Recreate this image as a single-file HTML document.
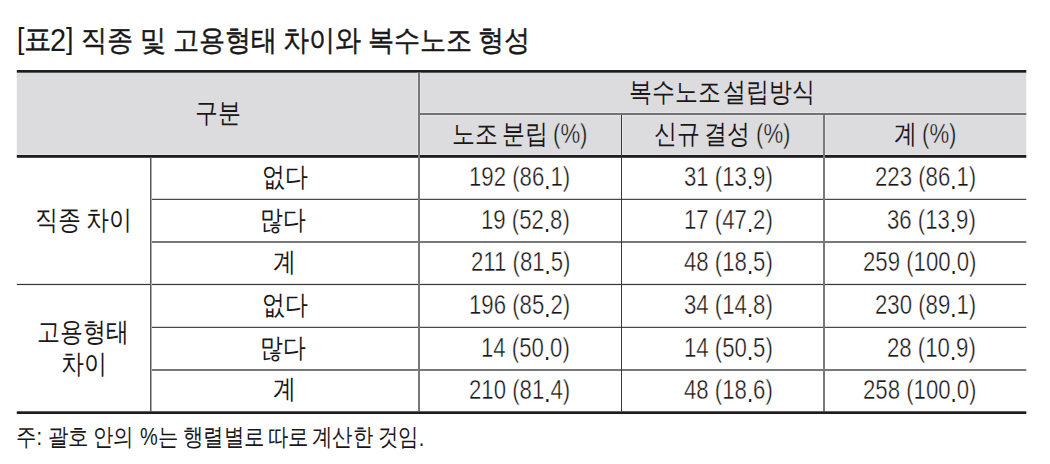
<!DOCTYPE html>
<html lang="ko"><head><meta charset="utf-8"><style>
html,body{margin:0;padding:0;background:#fff;}
body{width:1050px;height:464px;position:relative;overflow:hidden;font-family:"Liberation Sans",sans-serif;color:#1a1718;}
svg{position:absolute;left:0;top:0;}
span{position:absolute;line-height:1;white-space:pre;transform-origin:0 0;}
b{font-weight:normal;position:relative;top:1px;}
i{font-style:normal;position:relative;top:3px;-webkit-text-stroke:0;}
</style></head><body>
<svg width="1050" height="464" viewBox="0 0 1050 464"><rect x="16.8" y="72.5" width="1009.50" height="82.50" fill="#dcdcde"/><rect x="16.8" y="70" width="1009.50" height="2.70" fill="#1e1c1d"/><rect x="420" y="112" width="606.30" height="1.00" fill="#e5e5e7"/><rect x="420" y="115" width="606.30" height="1.00" fill="#e5e5e7"/><rect x="418" y="113" width="608.30" height="2.00" fill="#717172"/><rect x="417" y="72.7" width="1.00" height="81.30" fill="#e5e5e7"/><rect x="420" y="72.7" width="1.00" height="39.30" fill="#e5e5e7"/><rect x="420" y="116" width="1.00" height="38.00" fill="#e5e5e7"/><rect x="622" y="116" width="1.00" height="38.00" fill="#e5e5e7"/><rect x="825" y="116" width="1.00" height="38.00" fill="#e5e5e7"/><rect x="16.8" y="154" width="1009.50" height="1.00" fill="#e5e5e7"/><rect x="16.8" y="155" width="1009.50" height="2.80" fill="#1e1c1d"/><rect x="152" y="198" width="874.30" height="1.00" fill="#d2d2d2"/><rect x="150" y="199" width="876.30" height="1.00" fill="#4a4849"/><rect x="152" y="326" width="874.30" height="1.00" fill="#d2d2d2"/><rect x="150" y="327" width="876.30" height="1.00" fill="#4a4849"/><rect x="150" y="241" width="876.30" height="2.00" fill="#7a7879"/><rect x="150" y="369" width="876.30" height="2.00" fill="#7a7879"/><rect x="16.8" y="283" width="1009.50" height="1.00" fill="#e4e4e4"/><rect x="16.8" y="284" width="1009.50" height="1.00" fill="#3a3638"/><rect x="16.8" y="285" width="1009.50" height="1.00" fill="#eeeeee"/><rect x="150" y="157.8" width="1.00" height="253.50" fill="#5a585a"/><rect x="151" y="157.8" width="1.00" height="253.50" fill="#aaa8aa"/><rect x="418" y="72.7" width="2.00" height="338.60" fill="#787678"/><rect x="621" y="115" width="1.00" height="296.30" fill="#3c3839"/><rect x="823" y="115" width="2.00" height="296.30" fill="#7a7879"/><rect x="16.8" y="411.3" width="1009.50" height="2.70" fill="#1e1c1d"/></svg>
<span style="left:81.35px;top:26.00px;font-size:29.0px;transform:scaleX(0.9);-webkit-text-stroke:0.45px #1a1718;">직종</span>
<span style="left:140.30px;top:26.00px;font-size:29.0px;transform:scaleX(0.9);-webkit-text-stroke:0.45px #1a1718;">및</span>
<span style="left:173.35px;top:26.00px;font-size:29.0px;transform:scaleX(0.9);-webkit-text-stroke:0.45px #1a1718;">고용형태</span>
<span style="left:283.15px;top:26.00px;font-size:29.0px;transform:scaleX(0.9);-webkit-text-stroke:0.45px #1a1718;">차이와</span>
<span style="left:367.60px;top:26.00px;font-size:29.0px;transform:scaleX(0.9);-webkit-text-stroke:0.45px #1a1718;">복수노조</span>
<span style="left:477.50px;top:26.00px;font-size:29.0px;transform:scaleX(0.9);-webkit-text-stroke:0.45px #1a1718;">형성</span>
<span style="left:24.20px;top:25.00px;font-size:29.0px;transform:scaleX(0.95);-webkit-text-stroke:0.45px #1a1718;">표</span>
<span style="left:16.65px;top:24.00px;font-size:29.5px;transform:scaleX(0.9);">[</span>
<span style="left:66.00px;top:24.00px;font-size:29.5px;transform:scaleX(0.9);">]</span>
<span style="left:49.80px;top:25.00px;font-size:30.5px;transform:scaleX(0.95);">2</span>
<span style="left:629.10px;top:79.00px;font-size:26.7px;transform:scaleX(0.85);">복수노조</span>
<span style="left:723.45px;top:79.00px;font-size:26.7px;transform:scaleX(0.85);">설립방식</span>
<span style="left:194.75px;top:100.00px;font-size:26.7px;transform:scaleX(0.85);">구분</span>
<span style="left:451.75px;top:121.00px;font-size:26.7px;transform:scaleX(0.85);">노조</span>
<span style="left:502.45px;top:121.00px;font-size:26.7px;transform:scaleX(0.85);">분립</span>
<span style="left:653.90px;top:121.00px;font-size:26.7px;transform:scaleX(0.85);">신규</span>
<span style="left:703.70px;top:121.00px;font-size:26.7px;transform:scaleX(0.85);">결성</span>
<span style="left:893.70px;top:121.00px;font-size:26.7px;transform:scaleX(0.85);">계</span>
<span style="left:553.35px;top:120.00px;font-size:27.4px;transform:scaleX(0.81);-webkit-text-stroke:0.4px #dcdcde;">(%)</span>
<span style="left:755.80px;top:120.00px;font-size:27.4px;transform:scaleX(0.81);-webkit-text-stroke:0.4px #dcdcde;">(%)</span>
<span style="left:922.35px;top:120.00px;font-size:27.4px;transform:scaleX(0.81);-webkit-text-stroke:0.4px #dcdcde;">(%)</span>
<span style="left:261.50px;top:164.00px;font-size:26.7px;transform:scaleX(0.85);">없다</span>
<span style="left:260.35px;top:207.00px;font-size:26.7px;transform:scaleX(0.85);">많다</span>
<span style="left:273.20px;top:249.00px;font-size:26.7px;transform:scaleX(0.85);">계</span>
<span style="left:261.50px;top:292.00px;font-size:26.7px;transform:scaleX(0.85);">없다</span>
<span style="left:260.35px;top:335.00px;font-size:26.7px;transform:scaleX(0.85);">많다</span>
<span style="left:273.20px;top:376.00px;font-size:26.7px;transform:scaleX(0.85);">계</span>
<span style="left:35.25px;top:207.00px;font-size:26.7px;transform:scaleX(0.85);">직종</span>
<span style="left:86.00px;top:207.00px;font-size:26.7px;transform:scaleX(0.85);">차이</span>
<span style="left:37.40px;top:319.00px;font-size:26.7px;transform:scaleX(0.85);">고용형태</span>
<span style="left:60.90px;top:351.00px;font-size:26.7px;transform:scaleX(0.85);">차이</span>
<span style="left:15.90px;top:426.00px;font-size:23.5px;transform:scaleX(0.85);">주:</span>
<span style="left:47.75px;top:426.00px;font-size:23.5px;transform:scaleX(0.85);">괄호</span>
<span style="left:93.35px;top:426.00px;font-size:23.5px;transform:scaleX(0.85);">안의</span>
<span style="left:139.60px;top:426.00px;font-size:23.5px;transform:scaleX(0.85);">%는</span>
<span style="left:182.80px;top:426.00px;font-size:23.5px;transform:scaleX(0.85);">행렬별로</span>
<span style="left:268.25px;top:426.00px;font-size:23.5px;transform:scaleX(0.85);">따로</span>
<span style="left:312.30px;top:426.00px;font-size:23.5px;transform:scaleX(0.85);">계산한</span>
<span style="left:377.65px;top:426.00px;font-size:23.5px;transform:scaleX(0.85);">것임<b>.</b></span>
<span style="left:469.20px;top:163.00px;font-size:27.4px;transform:scaleX(0.81);-webkit-text-stroke:0.4px #fff;">192 (86<i>.</i>1)</span>
<span style="left:683.70px;top:163.00px;font-size:27.4px;transform:scaleX(0.81);-webkit-text-stroke:0.4px #fff;">31 (13<i>.</i>9)</span>
<span style="left:875.30px;top:163.00px;font-size:27.4px;transform:scaleX(0.81);-webkit-text-stroke:0.4px #fff;">223 (86<i>.</i>1)</span>
<span style="left:481.20px;top:206.00px;font-size:27.4px;transform:scaleX(0.81);-webkit-text-stroke:0.4px #fff;">19 (52<i>.</i>8)</span>
<span style="left:683.70px;top:206.00px;font-size:27.4px;transform:scaleX(0.81);-webkit-text-stroke:0.4px #fff;">17 (47<i>.</i>2)</span>
<span style="left:887.30px;top:206.00px;font-size:27.4px;transform:scaleX(0.81);-webkit-text-stroke:0.4px #fff;">36 (13<i>.</i>9)</span>
<span style="left:471.20px;top:248.00px;font-size:27.4px;transform:scaleX(0.81);-webkit-text-stroke:0.4px #fff;">211 (81<i>.</i>5)</span>
<span style="left:683.70px;top:248.00px;font-size:27.4px;transform:scaleX(0.81);-webkit-text-stroke:0.4px #fff;">48 (18<i>.</i>5)</span>
<span style="left:863.30px;top:248.00px;font-size:27.4px;transform:scaleX(0.81);-webkit-text-stroke:0.4px #fff;">259 (100<i>.</i>0)</span>
<span style="left:469.20px;top:291.00px;font-size:27.4px;transform:scaleX(0.81);-webkit-text-stroke:0.4px #fff;">196 (85<i>.</i>2)</span>
<span style="left:683.70px;top:291.00px;font-size:27.4px;transform:scaleX(0.81);-webkit-text-stroke:0.4px #fff;">34 (14<i>.</i>8)</span>
<span style="left:875.30px;top:291.00px;font-size:27.4px;transform:scaleX(0.81);-webkit-text-stroke:0.4px #fff;">230 (89<i>.</i>1)</span>
<span style="left:481.20px;top:334.00px;font-size:27.4px;transform:scaleX(0.81);-webkit-text-stroke:0.4px #fff;">14 (50<i>.</i>0)</span>
<span style="left:683.70px;top:334.00px;font-size:27.4px;transform:scaleX(0.81);-webkit-text-stroke:0.4px #fff;">14 (50<i>.</i>5)</span>
<span style="left:887.30px;top:334.00px;font-size:27.4px;transform:scaleX(0.81);-webkit-text-stroke:0.4px #fff;">28 (10<i>.</i>9)</span>
<span style="left:469.20px;top:376.00px;font-size:27.4px;transform:scaleX(0.81);-webkit-text-stroke:0.4px #fff;">210 (81<i>.</i>4)</span>
<span style="left:683.70px;top:376.00px;font-size:27.4px;transform:scaleX(0.81);-webkit-text-stroke:0.4px #fff;">48 (18<i>.</i>6)</span>
<span style="left:863.30px;top:376.00px;font-size:27.4px;transform:scaleX(0.81);-webkit-text-stroke:0.4px #fff;">258 (100<i>.</i>0)</span>
</body></html>
